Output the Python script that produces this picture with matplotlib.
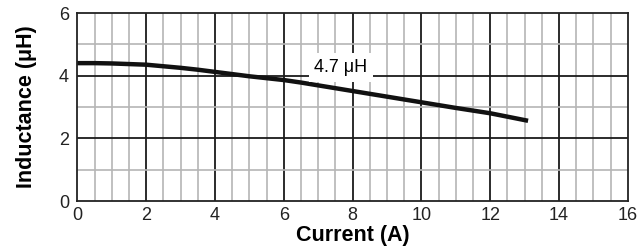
import numpy as np
import matplotlib
matplotlib.use("Agg")
import matplotlib.pyplot as plt

# inductance vs current
current = [0, 0.5, 1, 1.5, 2, 2.5, 3, 3.5, 4, 4.5, 5, 5.5, 6, 6.5, 7, 8, 9, 10, 11, 12, 13.1]
inductance = [4.40, 4.40, 4.39, 4.37, 4.35, 4.30, 4.25, 4.19, 4.12, 4.05, 3.98, 3.92,
              3.86, 3.78, 3.69, 3.51, 3.33, 3.15, 2.97, 2.80, 2.56]
label_text = "4.7 μH"

plt.rcParams["font.family"] = ["Liberation Sans", "DejaVu Sans"]

fig = plt.figure(figsize=(6.4, 2.5), dpi=100)
ax = fig.add_axes([0.121, 0.196, 0.86, 0.752])

ax.set_xlim(0, 16)
ax.set_ylim(0, 6)

# grid: gray minor, black major
for x in np.arange(0.5, 16, 0.5):
    major = x % 2 == 0
    ax.axvline(x, color="#1a1a1a" if major else "#b5b5b5", lw=1.3 if major else 1.2, zorder=1)
for y in np.arange(1, 6, 1):
    major = y % 2 == 0
    ax.axhline(y, color="#1a1a1a" if major else "#b5b5b5", lw=1.3 if major else 1.2, zorder=1)

ax.plot(current, inductance, color="#111111", lw=3.2, solid_capstyle="butt",
        solid_joinstyle="round", zorder=3)

ax.text(7.66, 4.26, label_text, fontsize=13, ha="center", va="center", zorder=4,
        bbox=dict(facecolor="white", edgecolor="none", pad=4))

ax.set_xticks(range(0, 17, 2))
ax.set_yticks(range(0, 7, 2))
ax.tick_params(length=0, labelsize=13, colors="#222222")
ax.tick_params(axis="y", pad=6)
ax.tick_params(axis="x", pad=4)
for s in ax.spines.values():
    s.set_color("#222222")
    s.set_linewidth(1.3)

ax.set_xlabel("Current (A)", fontsize=15.5, fontweight="bold", labelpad=1)
ax.set_ylabel("Inductance (μH)", fontsize=15.5, fontweight="bold", labelpad=16)

fig.savefig("out.png", dpi=100)
